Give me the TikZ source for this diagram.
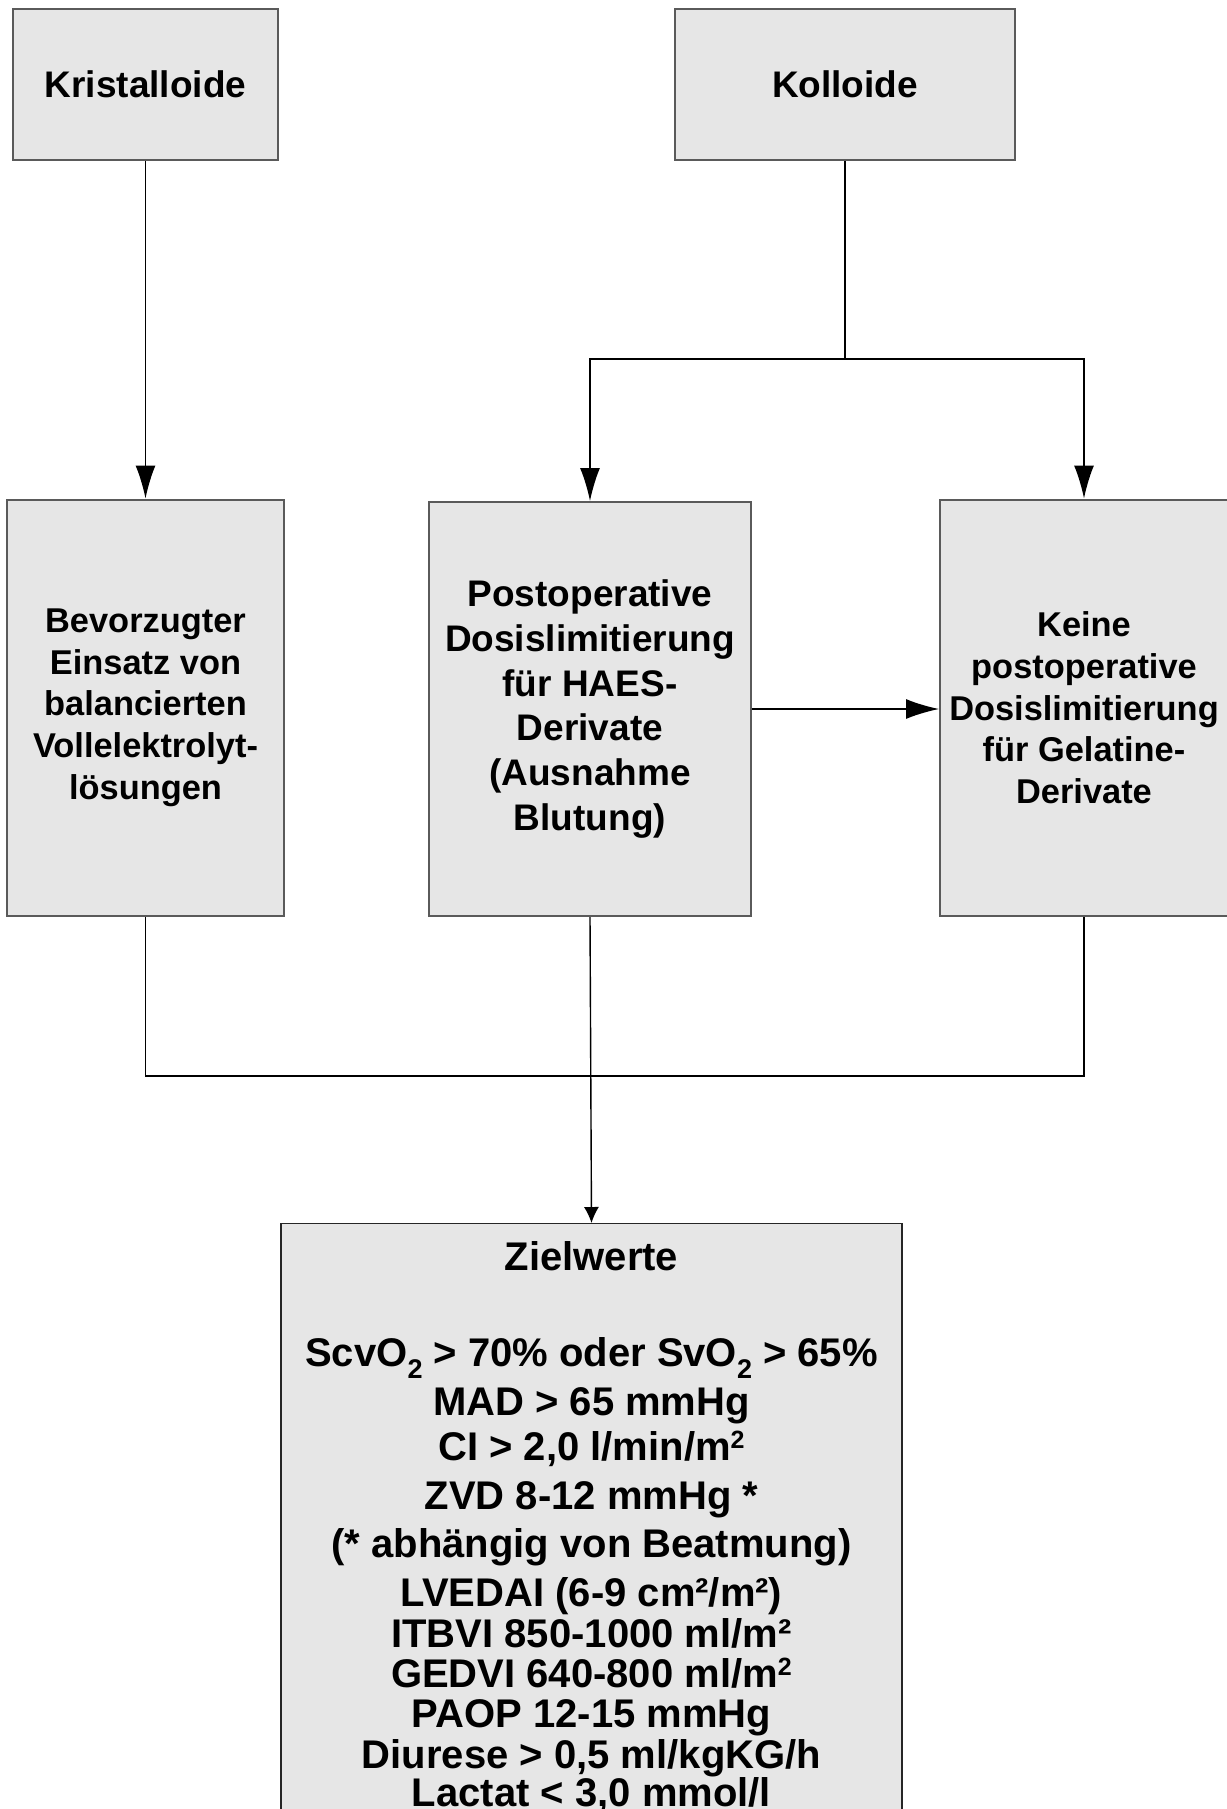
\documentclass[tikz,border=0pt]{standalone}
\usepackage{fontspec}
\setmainfont{Liberation Sans}
\usetikzlibrary{arrows.meta,calc}
\definecolor{boxfill}{HTML}{E6E6E6}
\definecolor{boxline}{HTML}{5A5A5A}
% lowered and raised digits for the target values
\newcommand{\lowtwo}{\raisebox{-0.3em}{\fontsize{27}{27}\selectfont 2}}
\newcommand{\hightwo}{\raisebox{0.3em}{\fontsize{25}{25}\selectfont 2}}
\begin{document}
\begin{tikzpicture}[x=1pt,y=-1pt,
  box/.style={rectangle,draw=boxline,line width=2pt,fill=boxfill,inner sep=0pt,align=center},
  conn/.style={draw=black,line width=1.4pt},
  bigtip/.style={-{Latex[length=33pt,width=20pt]}},
  smalltip/.style={-{Latex[length=16pt,width=15pt]}},
  sizeA/.style={font=\fontsize{37}{44.7}\selectfont\bfseries},
  sizeB/.style={font=\fontsize{34.4}{41.9}\selectfont\bfseries},
  zline/.style={anchor=base,font=\fontsize{40}{40}\selectfont\bfseries}
]
\useasboundingbox (0,0) rectangle (1226,1809);

% top row
\node[box,sizeA,minimum width=265pt,minimum height=150pt] (kri) at (145.5,84.5) {Kristalloide};
\node[box,sizeA,minimum width=340pt,minimum height=150pt] (kol) at (845,84.5) {Kolloide};

% middle row
\node[box,sizeB,minimum width=277pt,minimum height=416.5pt] (bev) at (145.5,707.75)
  {Bevorzugter\\Einsatz von\\balancierten\\Vollelektrolyt-\\lösungen};
\node[box,sizeA,minimum width=322pt,minimum height=414pt] (post) at (590,709)
  {Postoperative\\Dosislimitierung\\für HAES-\\Derivate\\(Ausnahme\\Blutung)};
\node[box,sizeB,minimum width=288pt,minimum height=416.5pt] (keine) at (1084,707.75)
  {Keine\\postoperative\\Dosislimitierung\\für Gelatine-\\Derivate};

% target values box (runs past the lower edge)
\node[rectangle,draw=black!85,line width=1.3pt,fill=boxfill,anchor=north,
      minimum width=621pt,minimum height=700pt] (ziel) at (591.5,1223) {};
\node[zline] (z1) at (591.5,1270) {Zielwerte};
\node[zline] (z2) at (591.5,1366) {ScvO\lowtwo{} > 70\% oder SvO\lowtwo{} > 65\%};
\node[zline] (z3) at (591.5,1415) {MAD > 65 mmHg};
\node[zline] (z4) at (591.5,1460) {CI > 2,0 l/min/m\hightwo};
\node[zline] (z5) at (591.5,1509) {ZVD 8-12 mmHg *};
\node[zline] (z6) at (591.5,1557) {(* abhängig von Beatmung)};
\node[zline] (z7) at (591.5,1606) {LVEDAI (6-9 cm²/m²)};
\node[zline] (z8) at (591.5,1647) {ITBVI 850-1000 ml/m²};
\node[zline] (z9) at (591.5,1687) {GEDVI 640-800 ml/m\hightwo};
\node[zline] (z10) at (591.5,1727) {PAOP 12-15 mmHg};
\node[zline] (z11) at (591.5,1768) {Diurese > 0,5 ml/kgKG/h};
\node[zline] (z12) at (591.5,1806) {Lactat < 3,0 mmol/l};

% connectors
\coordinate (split) at (845,359);
\coordinate (merge) at (590,1076);
\draw[conn,bigtip] (kri.south) -- (bev.north);
\draw[conn] (kol.south) -- (split);
\draw[conn,bigtip] (split) -| (post.north);
\draw[conn,bigtip] (split) -| (keine.north);
\draw[conn,bigtip] (post.east) -- (post.east -| keine.west);
\draw[conn] (bev.south) |- (merge) -| (keine.south);
\draw[conn,smalltip] (post.south) -- (ziel.north);
\end{tikzpicture}
\end{document}
